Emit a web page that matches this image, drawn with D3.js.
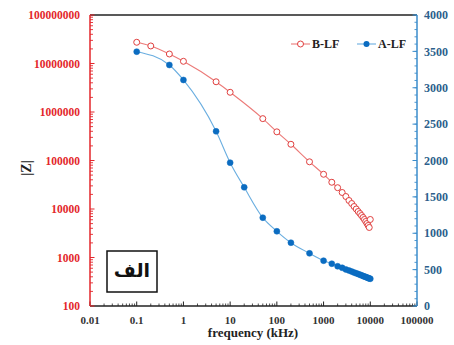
<!DOCTYPE html>
<html>
<head>
<meta charset="utf-8">
<script src="https://cdn.jsdelivr.net/npm/d3@7"></script>
<style>
  body { margin: 0; background: #fff; }
</style>
</head>
<body>
<div id="chart-container"></div>
<script>
// B-LF (left log axis)
const freqB = [0.1, 0.2, 0.5, 1, 5, 10, 50, 100, 200, 500, 1000, 1500, 2000, 2500, 3000, 3500, 4000,
    4500, 5000, 5500, 6000, 6500, 7000, 7500, 8000, 8500, 9000, 9500, 10000];
const zB = [2.74e7, 2.3e7, 1.57e7, 1.11e7, 4.2e6, 2.55e6, 7.3e5, 3.9e5, 2.16e5, 9.4e4, 5.2e4, 3.56e4, 2.75e4,
    21900, 18100, 14970, 12980, 11260, 10000, 8880, 8070, 7340, 6680, 6080, 5530, 5030, 4570, 4160, 6080];

// A-LF (right linear axis)
const freqA = [0.1, 0.5, 1, 5, 10, 20, 50, 100, 200, 500, 1000, 1500, 2000, 2500, 3000, 3500, 4000,
    4500, 5000, 5500, 6000, 6500, 7000, 7500, 8000, 8500, 9000, 9500, 10000];
const zA = [3496, 3313, 3107, 2401, 1970, 1632, 1214, 1027, 870, 724, 623, 581, 546,
    525, 503, 488, 473, 460, 449, 440, 430, 421, 412, 405, 399, 392, 385, 379, 375];

const xTicks = [0.01, 0.1, 1, 10, 100, 1000, 10000, 100000];
const yLeftTicks = [100, 1000, 10000, 100000, 1000000, 10000000, 100000000];
const yRightTicks = [0, 500, 1000, 1500, 2000, 2500, 3000, 3500, 4000];

const width = 454, height = 345;
const m = { left: 90, right: 417, top: 15, bottom: 306 };

const redAxis = "#e3262b", redLine = "#ec7a78", redMark = "#e0403f";
const blueAxis = "#3b8ccb", blueLine = "#6aaee0", blueMark = "#0b6cc1";

const svg = d3.select("#chart-container")
    .append("svg")
        .attr("width", width)
        .attr("height", height)
        .style("font-family", "'Liberation Serif', 'Times New Roman', serif")
        .style("font-weight", "bold");

const x = d3.scaleLog().domain([0.01, 100000]).range([m.left, m.right]);
const yL = d3.scaleLog().domain([100, 1e8]).range([m.bottom, m.top]);
const yR = d3.scaleLinear().domain([0, 4000]).range([m.bottom, m.top]);

// minor log ticks
function logMinor(lo, hi) {
    const out = [];
    for (let d = lo; d < hi; d *= 10)
        for (let k = 2; k <= 9; k++) out.push(d * k);
    return out;
}

// top border
svg.append("line")
    .attr("x1", m.left).attr("x2", m.right)
    .attr("y1", m.top).attr("y2", m.top)
    .attr("stroke", "#222").attr("stroke-width", 1.5);

// x axis
const gx = svg.append("g").attr("transform", `translate(0,${m.bottom})`);
gx.selectAll("line.minor").data(logMinor(0.01, 100000)).enter().append("line")
    .attr("x1", d => x(d)).attr("x2", d => x(d))
    .attr("y1", 0).attr("y2", -2.5)
    .attr("stroke", "#222").attr("stroke-width", 0.8);
gx.selectAll("line.major").data(xTicks).enter().append("line")
    .attr("x1", d => x(d)).attr("x2", d => x(d))
    .attr("y1", 0).attr("y2", -4.5)
    .attr("stroke", "#222").attr("stroke-width", 1);
gx.append("line").attr("x1", m.left).attr("x2", m.right)
    .attr("stroke", "#222").attr("stroke-width", 1.5);
gx.selectAll("text").data(xTicks).enter().append("text")
    .attr("x", d => x(d)).attr("y", 18)
    .attr("text-anchor", "middle")
    .attr("font-size", 11)
    .attr("fill", "#333")
    .text(d => String(d));

// left axis (red)
const gl = svg.append("g").attr("transform", `translate(${m.left},0)`);
gl.selectAll("line.minor").data(logMinor(100, 1e8)).enter().append("line")
    .attr("x1", 0).attr("x2", 3)
    .attr("y1", d => yL(d)).attr("y2", d => yL(d))
    .attr("stroke", redAxis).attr("stroke-width", 0.9);
gl.selectAll("line.major").data(yLeftTicks).enter().append("line")
    .attr("x1", 0).attr("x2", 4.5)
    .attr("y1", d => yL(d)).attr("y2", d => yL(d))
    .attr("stroke", redAxis).attr("stroke-width", 1);
gl.append("line").attr("y1", m.top).attr("y2", m.bottom)
    .attr("stroke", redAxis).attr("stroke-width", 1.5);
gl.selectAll("text").data(yLeftTicks).enter().append("text")
    .attr("x", -10).attr("y", d => yL(d)).attr("dy", "0.35em")
    .attr("text-anchor", "end")
    .attr("font-size", 11.5)
    .attr("fill", redAxis)
    .text(d => String(d));

// right axis (blue)
const gr = svg.append("g").attr("transform", `translate(${m.right},0)`);
gr.selectAll("line.minor").data(d3.range(0, 4001, 100)).enter().append("line")
    .attr("x1", 0).attr("x2", -2.5)
    .attr("y1", d => yR(d)).attr("y2", d => yR(d))
    .attr("stroke", blueAxis).attr("stroke-width", 0.9);
gr.selectAll("line.major").data(yRightTicks).enter().append("line")
    .attr("x1", 0).attr("x2", -4.5)
    .attr("y1", d => yR(d)).attr("y2", d => yR(d))
    .attr("stroke", blueAxis).attr("stroke-width", 1);
gr.append("line").attr("y1", m.top).attr("y2", m.bottom)
    .attr("stroke", blueAxis).attr("stroke-width", 1.5);
gr.selectAll("text").data(yRightTicks).enter().append("text")
    .attr("x", 7).attr("y", d => yR(d)).attr("dy", "0.35em")
    .attr("text-anchor", "start")
    .attr("font-size", 12)
    .attr("fill", "#2d5f8c")
    .text(d => String(d));

// axis titles
svg.append("text")
    .attr("transform", "translate(31,168) rotate(-90)")
    .attr("text-anchor", "middle")
    .attr("font-size", 14)
    .attr("fill", "#222")
    .text("|Z|");
svg.append("text")
    .attr("x", 253).attr("y", 337)
    .attr("text-anchor", "middle")
    .attr("font-size", 13)
    .attr("fill", "#222")
    .text("frequency (kHz)");

// series B-LF
const dataB = freqB.map((f, i) => ({ f, z: zB[i] }));
svg.append("path").datum(dataB)
    .attr("fill", "none").attr("stroke", redLine).attr("stroke-width", 1.1)
    .attr("d", d3.line().x(d => x(d.f)).y(d => yL(d.z)).curve(d3.curveMonotoneX));
svg.selectAll("circle.b").data(dataB).enter().append("circle")
    .attr("cx", d => x(d.f)).attr("cy", d => yL(d.z)).attr("r", 3)
    .attr("fill", "#fff").attr("stroke", redMark).attr("stroke-width", 1);

// series A-LF
const dataA = freqA.map((f, i) => ({ f, z: zA[i] }));
svg.append("path").datum(dataA)
    .attr("fill", "none").attr("stroke", blueLine).attr("stroke-width", 1.1)
    .attr("d", d3.line().x(d => x(d.f)).y(d => yR(d.z)).curve(d3.curveMonotoneX));
svg.selectAll("circle.a").data(dataA).enter().append("circle")
    .attr("cx", d => x(d.f)).attr("cy", d => yR(d.z)).attr("r", 3)
    .attr("fill", blueMark).attr("stroke", blueMark).attr("stroke-width", 0.5);

// legend
const leg = svg.append("g").attr("transform", "translate(0,44)");
leg.append("line").attr("x1", 291).attr("x2", 310).attr("stroke", redLine).attr("stroke-width", 1.1);
leg.append("circle").attr("cx", 300.5).attr("r", 3)
    .attr("fill", "#fff").attr("stroke", redMark).attr("stroke-width", 1);
leg.append("text").attr("x", 312).attr("dy", "0.35em").attr("font-size", 12)
    .attr("fill", "#222").text("B-LF");
leg.append("line").attr("x1", 357).attr("x2", 376).attr("stroke", blueLine).attr("stroke-width", 1.1);
leg.append("circle").attr("cx", 366.5).attr("r", 3).attr("fill", blueMark);
leg.append("text").attr("x", 378).attr("dy", "0.35em").attr("font-size", 12)
    .attr("fill", "#222").text("A-LF");

// panel label box
svg.append("rect")
    .attr("x", 107).attr("y", 251).attr("width", 50).attr("height", 41)
    .attr("fill", "#fff").attr("stroke", "#111").attr("stroke-width", 1.5);
svg.append("text")
    .attr("x", 132).attr("y", 270).attr("dy", "0.35em")
    .attr("text-anchor", "middle")
    .attr("font-size", 19)
    .style("font-family", "'DejaVu Sans', sans-serif")
    .attr("fill", "#111")
    .text("الف");
</script>
</body>
</html>
